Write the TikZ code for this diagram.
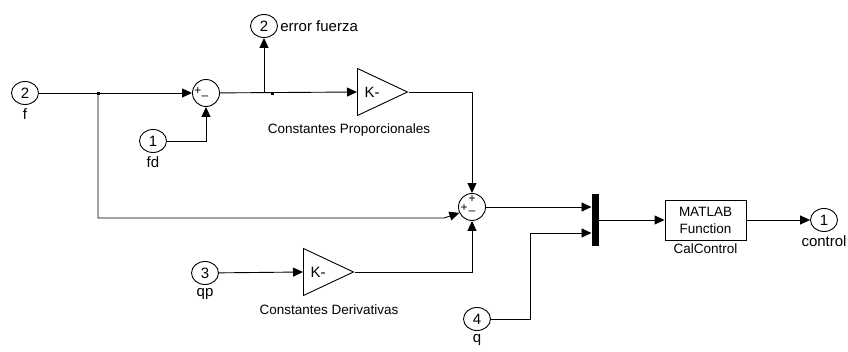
\documentclass[tikz,border=0pt]{standalone}
\usepackage{fontspec}
\setmainfont{Liberation Sans}
\usetikzlibrary{positioning,shapes.geometric,arrows.meta}

\tikzset{
  port/.style={draw, ellipse, minimum width=27pt, minimum height=23pt, inner sep=0pt, font=\fontsize{15}{16}\selectfont},
  sumblk/.style={draw, circle, minimum size=27pt, inner sep=0pt},
  gainblk/.style={draw, isosceles triangle, isosceles triangle stretches, minimum width=47pt, minimum height=50pt, inner sep=0pt, font=\fontsize{15}{16}\selectfont},
  lbl/.style={font=\fontsize{15}{17}\selectfont, inner sep=1pt},
  blklbl/.style={font=\fontsize{13.5}{15}\selectfont, inner sep=1pt},
  sgn/.style={font=\fontsize{12}{12}\selectfont, inner sep=0pt},
  sig/.style={-{Triangle[length=10pt,width=9pt]}},
}

\begin{document}
\begin{tikzpicture}[x=1pt, y=-1pt, line width=0.9pt]
  \useasboundingbox (0,0) rectangle (848,352);
  % Inports and outports
  \node[port] (f) at (25,93) {2};
  \node[lbl, below=2pt of f] (flbl) {f};
  \node[port] (fd) at (153,141) {1};
  \node[lbl, below=2pt of fd] (fdlbl) {fd};
  \node[port] (err) at (264,26) {2};
  \node[lbl, right=1pt of err] (errlbl) {error fuerza};
  \node[port] (qp) at (205,273) {3};
  \node[lbl, below=2pt of qp] (qplbl) {qp};
  \node[port] (q) at (477,319) {4};
  \node[lbl, below=2pt of q] (qlbl) {q};
  \node[port] (ctrl) at (824,220) {1};
  \node[lbl, below=2pt of ctrl] (ctrllbl) {control};
  % Sums
  \node[sumblk] (sum1) at (206,93) {};
  \node[sgn] (s1a) at (198,91) {+};
  \node[sgn] (s1b) at (205,98) {--};
  \node[sumblk] (sum2) at (472,207) {};
  \node[sgn] (s2a) at (472,199) {+};
  \node[sgn] (s2b) at (464,208) {+};
  \node[sgn] (s2c) at (472,213) {--};
  % Gains
  \node[gainblk, anchor=west] (kp) at (357,92) {K-};
  \node[blklbl] (kplbl) at (349,130) {Constantes Proporcionales};
  \node[gainblk, anchor=west] (kd) at (303,272) {K-};
  \node[blklbl] (kdlbl) at (329,310) {Constantes Derivativas};
  % Mux and function block
  \node[fill=black, minimum width=7pt, minimum height=52pt, inner sep=0pt] (mux) at (595,220) {};
  \coordinate (mux1) at (591.5,207);
  \coordinate (mux2) at (591.5,233);
  \node[draw, minimum width=81pt, minimum height=40pt, align=center, font=\fontsize{13.5}{17}\selectfont] (mfun) at (705.5,220) {MATLAB\\Function};
  \node[blklbl, below=2pt of mfun] (mfunlbl) {CalControl};
  % Branch points
  \coordinate (br1) at (98,93);
  \coordinate (br2) at (264,93);
  \coordinate (bend) at (444,218);
  \coordinate (qbend) at (530,319);
  \fill (97,92.5) rectangle (99.5,95);
  \fill (271,92.5) rectangle (273.5,95);
  % Signals
  \draw[sig] (f) -- (sum1);
  \draw[sig] (fd) -| (sum1);
  \draw[sig] (sum1) -- (kp.west);
  \draw[sig] (br2) -- (err);
  \draw[sig] (kp.east) -| (sum2);
  \draw[sig] (br1) |- (bend) -- (sum2.205);
  \draw[sig] (qp) -- (kd.west);
  \draw[sig] (kd.east) -| (sum2);
  \draw[sig] (sum2) -- (mux1);
  \draw[sig] (q) -- (qbend) |- (mux2);
  \draw[sig] (mux) -- (mfun);
  \draw[sig] (mfun) -- (ctrl);
\end{tikzpicture}
\end{document}
